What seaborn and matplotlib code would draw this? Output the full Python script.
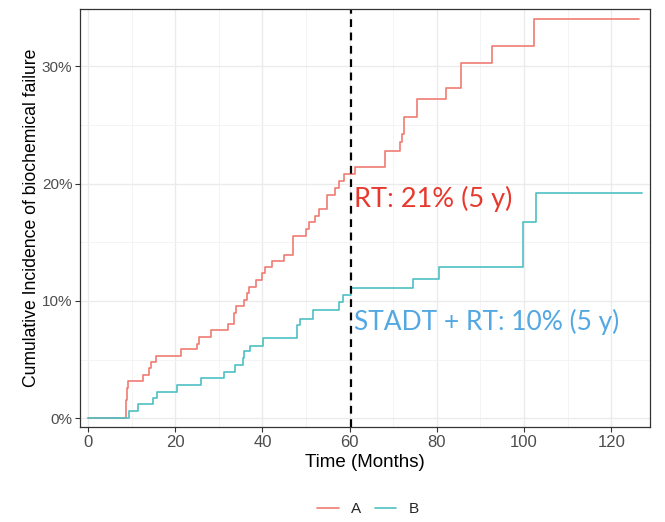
import pandas as pd
import matplotlib
matplotlib.use("Agg")
import matplotlib.pyplot as plt
from matplotlib.ticker import FuncFormatter, MultipleLocator
import seaborn as sns

# cumulative incidence (%)
time_a = [0, 8.6, 8.8, 9.0, 9.2, 12.7, 14.0, 14.4, 15.6, 21.4, 24.9, 25.4, 28.1,
          32.2, 33.5, 33.9, 35.7, 36.4, 36.9, 38.6, 39.9, 40.7, 42.3, 45.0, 47.1,
          50.1, 50.6, 52.1, 52.9, 54.7, 56.7, 57.5, 58.6, 61.3, 68.1, 71.6, 72.0,
          72.5, 75.4, 82.2, 85.6, 92.6, 102.2, 126.3]
cif_a = [0, 0.6, 1.6, 2.6, 3.2, 3.7, 4.3, 4.8, 5.3, 5.9, 6.3, 6.9, 7.5,
         8.0, 8.95, 9.55, 10.1, 10.65, 11.2, 11.8, 12.35, 12.9, 13.4, 13.95, 15.5,
         16.1, 16.7, 17.25, 17.8, 19.0, 19.6, 20.2, 20.8, 21.45, 22.8, 23.5, 24.2,
         25.7, 27.2, 28.1, 30.3, 31.75, 34.05, 34.05]

time_b = [0, 9.4, 11.5, 14.8, 15.7, 20.3, 26.0, 31.2, 33.8, 35.6, 35.8, 37.2,
          40.2, 48.0, 48.6, 51.5, 57.6, 58.4, 60.2, 74.5, 80.6, 99.8, 102.8, 127.1]
cif_b = [0, 0.6, 1.2, 1.7, 2.27, 2.84, 3.4, 3.97, 4.5, 5.1, 5.7, 6.2,
         6.8, 7.95, 8.5, 9.2, 9.95, 10.5, 11.1, 11.9, 12.9, 16.7, 19.2, 19.2]

groups = ["A", "B"]
line_colors = ["#F07B72", "#4EC0C3"]
landmark = 60.3
label_a = "RT: 21% (5 y)"
label_b = "STADT + RT: 10% (5 y)"

df = pd.concat([
    pd.DataFrame({"time": time_a, "cif": cif_a, "group": "A"}),
    pd.DataFrame({"time": time_b, "cif": cif_b, "group": "B"}),
])

sns.set_theme(style="whitegrid")
plt.rcParams["font.family"] = ["Liberation Sans", "DejaVu Sans"]

fig = plt.figure(figsize=(6.65, 5.22), dpi=100)
ax = fig.add_axes([80 / 665, 95 / 522, 570 / 665, 418 / 522])

sns.lineplot(data=df, x="time", y="cif", hue="group", hue_order=groups,
             palette=line_colors, drawstyle="steps-post", linewidth=1.2,
             estimator=None, sort=True, ax=ax)

ax.axvline(landmark, color="black", linestyle=(0, (3.5, 2.5)), linewidth=1.6)

ax.text(61.0, 18.7, label_a, color="#E8392E", fontsize=19.5, family=["Lato", "DejaVu Sans"],
        va="center", ha="left")
ax.text(61.0, 8.2, label_b, color="#53A8E2", fontsize=19, family=["Lato", "DejaVu Sans"],
        va="center", ha="left")

ax.set_xlim(-1.85, 128.9)
ax.set_ylim(-0.74, 34.87)
ax.xaxis.set_major_locator(MultipleLocator(20))
ax.xaxis.set_minor_locator(MultipleLocator(10))
ax.yaxis.set_major_locator(MultipleLocator(10))
ax.yaxis.set_minor_locator(MultipleLocator(5))
ax.yaxis.set_major_formatter(FuncFormatter(lambda v, p: f"{v:.0f}%"))

ax.set_facecolor("white")
ax.grid(which="major", color="#EBEBEB", linewidth=1.0)
ax.grid(which="minor", color="#F2F2F2", linewidth=0.6)
for s in ax.spines.values():
    s.set_color("#333333")
    s.set_linewidth(0.9)
ax.tick_params(axis="both", which="major", length=3.5, width=0.8, color="#333333",
               labelsize=11, labelcolor="#4D4D4D", pad=2, bottom=True, left=True)
ax.tick_params(axis="x", labelsize=12)
ax.tick_params(which="minor", length=0)

ax.set_xlabel("Time (Months)", fontsize=13.5, color="black", labelpad=3)
ax.set_ylabel("Cumulative Incidence of biochemical failure", fontsize=12.7,
              color="black", labelpad=1)

handles, labels = ax.get_legend_handles_labels()
ax.get_legend().remove()
fig.legend(handles, labels, loc="center", bbox_to_anchor=(368 / 665, 13 / 522),
           ncol=2, frameon=False, fontsize=11, handlelength=1.4,
           columnspacing=0.9, handletextpad=0.8)

fig.savefig("out.png", dpi=100)
